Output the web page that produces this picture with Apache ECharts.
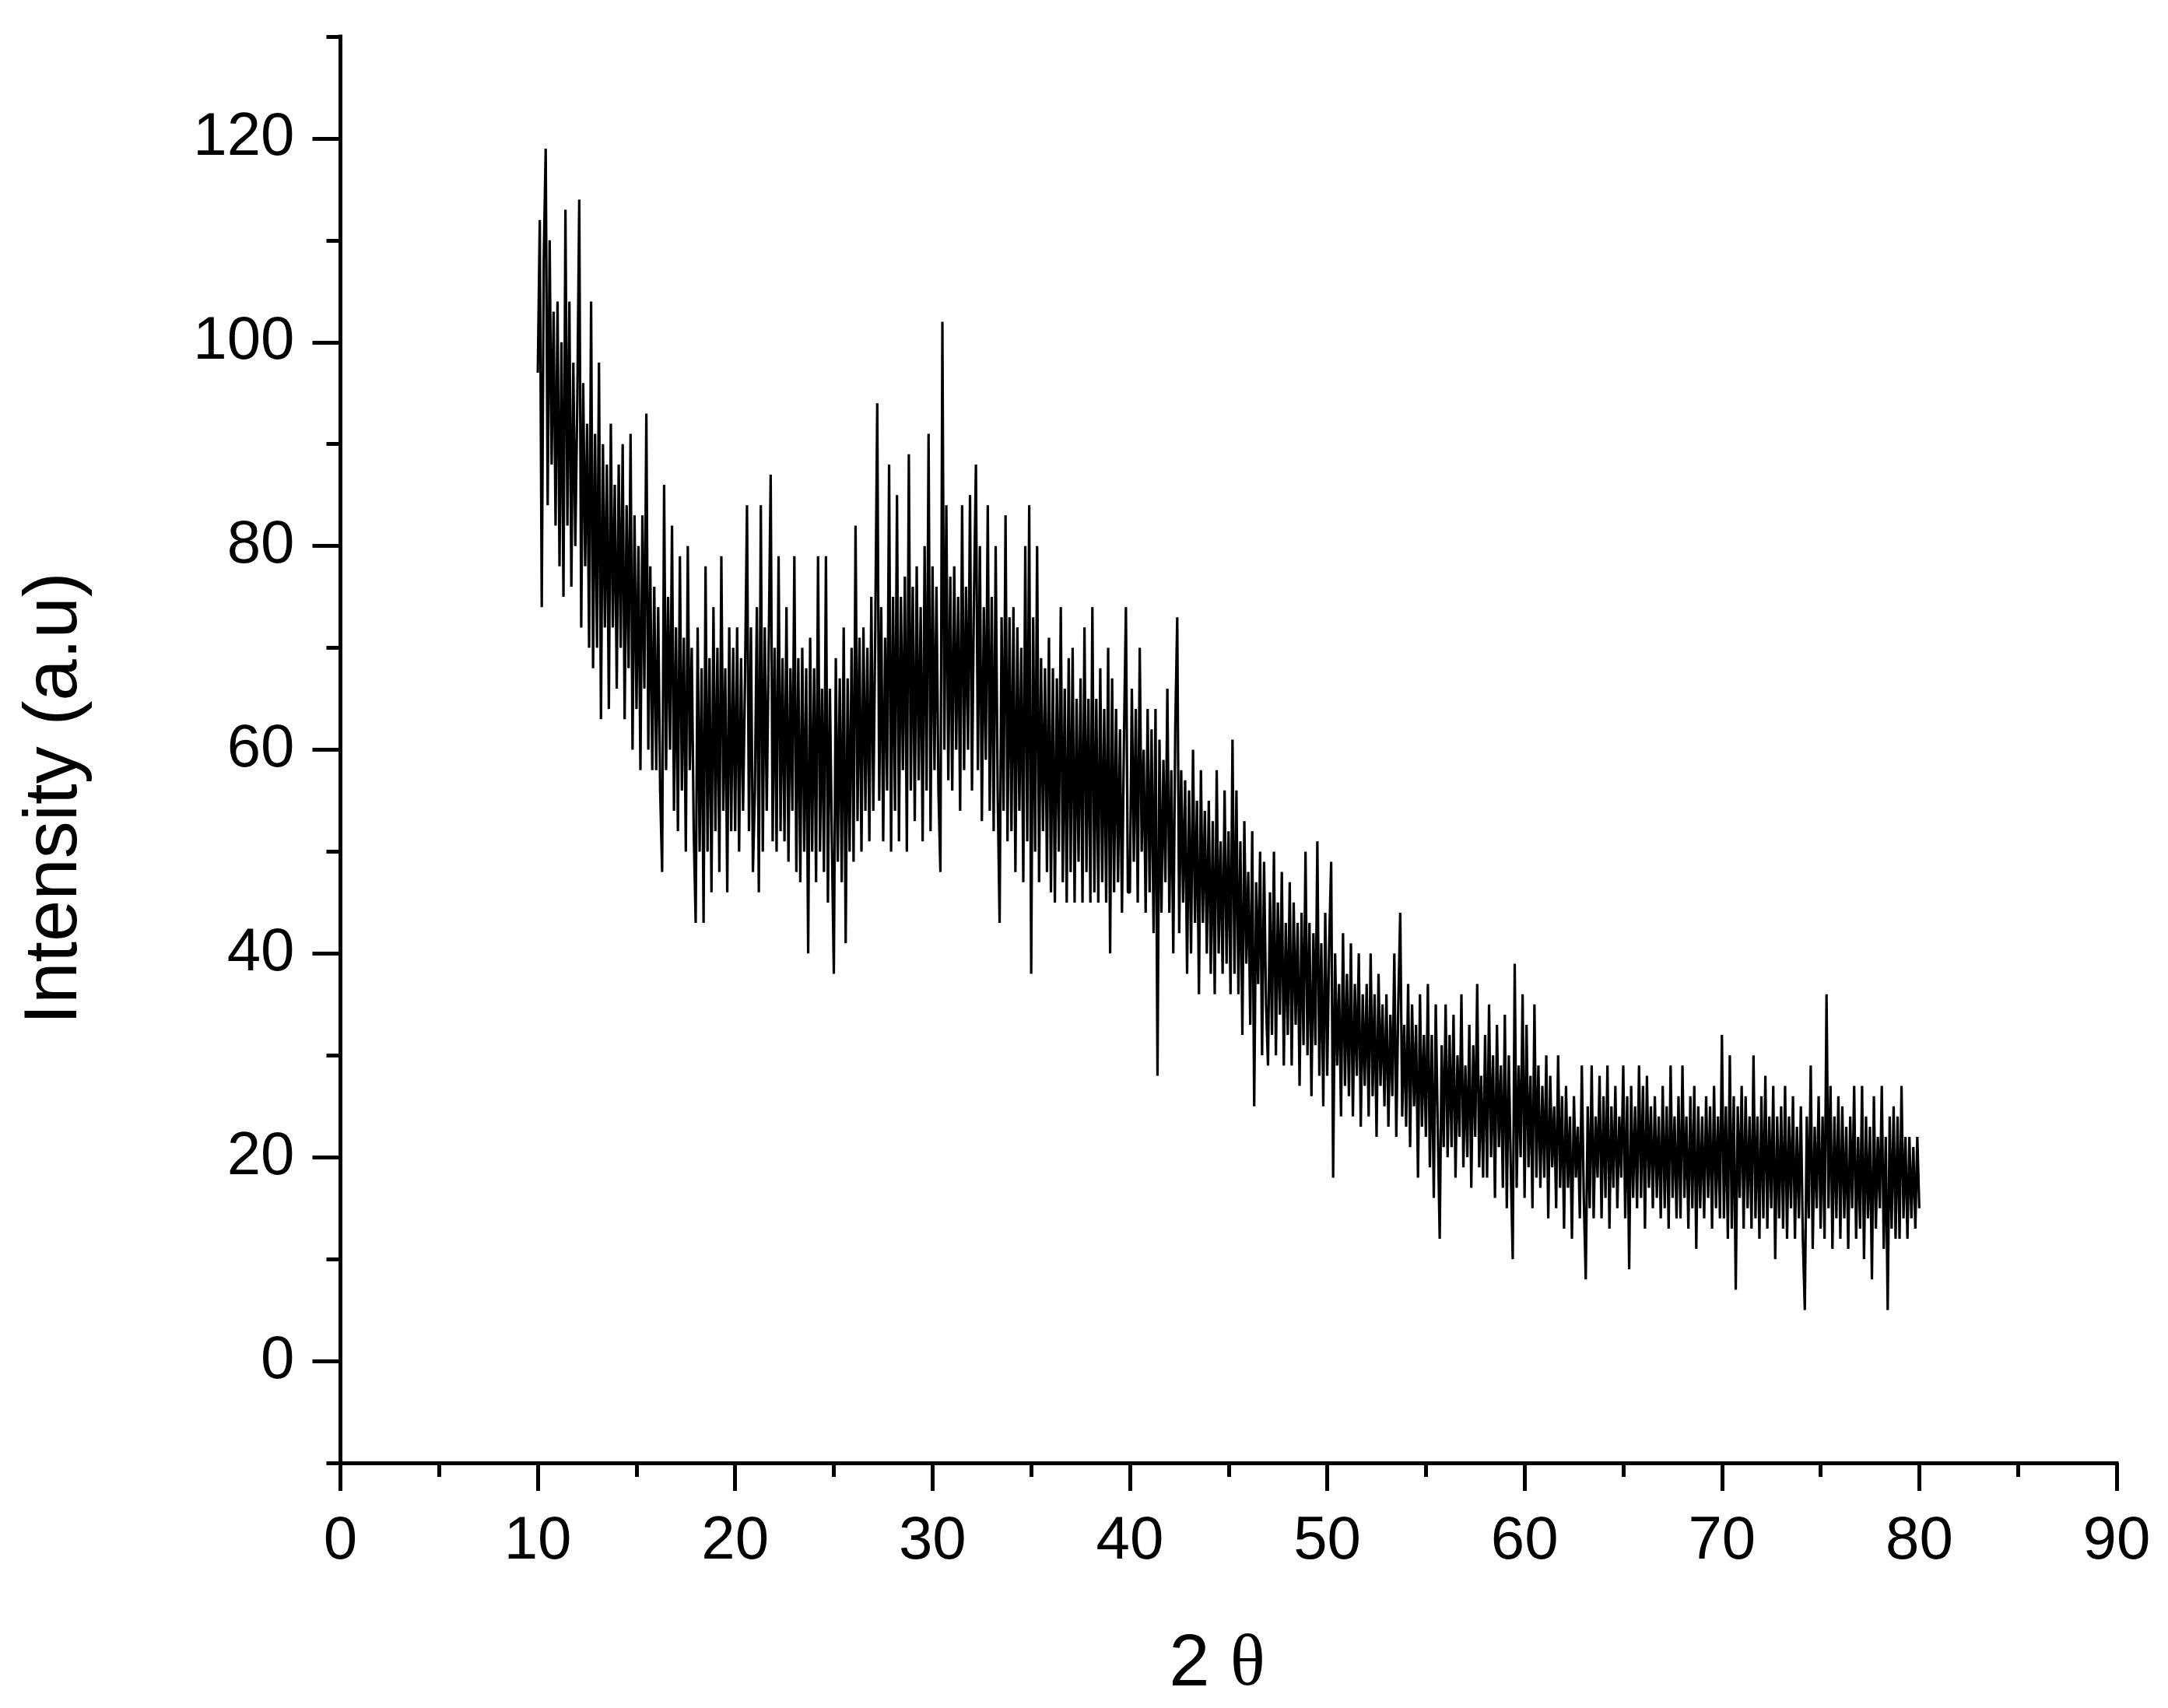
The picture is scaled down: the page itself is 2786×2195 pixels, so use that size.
<!DOCTYPE html>
<html>
<head>
<meta charset="utf-8">
<title>XRD pattern</title>
<script src="https://cdn.jsdelivr.net/npm/echarts@6/dist/echarts.min.js"></script>
<style>
  html, body { margin: 0; padding: 0; background: #fff; }
  #chart { width: 2786px; height: 2195px; }
</style>
</head>
<body>
<div id="chart"></div>
<script>
// scan settings, values, one line per degree
const thetaStart = 10
const thetaStep = 0.1

const counts10s = [
  97,112,74,108,119,84,110,88,103,82,
  104,78,100,75,113,82,104,76,98,80,
  94,114,72,96,78,92,70,104,68,91,
  70,98,63,90,72,88,64,92,72,86,
  66,88,70,90,63,84,68,91,60,83,
  64,80,58,83,66,93,60,78,58,76,
  58,74,56,48,86,58,75,60,82,54,
  72,52,79,56,71,50,80,58,70,52,
  43,72,50,68,43,78,50,69,46,74,
  52,70,48,79,54,68,46,72,52,70
]
const counts20s = [
  52,72,50,69,54,67,84,52,72,48,
  56,74,46,84,50,72,54,70,87,51,
  70,50,79,52,69,51,74,49,68,54,
  79,48,69,47,70,50,68,40,71,50,
  68,47,79,50,66,48,79,45,66,51,
  38,69,49,67,47,72,41,67,50,70,
  49,82,53,71,50,72,54,70,51,75,
  54,72,94,55,74,51,71,56,88,50,
  75,54,85,51,75,58,77,50,89,56,
  76,53,78,57,74,51,80,56,91,52
]
const counts30s = [
  78,58,76,56,48,102,60,84,57,77,
  56,78,60,75,54,84,58,76,60,85,
  56,75,88,58,80,53,74,59,84,54,
  75,52,80,56,43,73,54,83,51,73,
  52,74,48,72,54,70,47,80,51,84,
  38,73,50,80,47,69,52,68,48,71,
  46,68,45,67,50,74,47,66,45,69,
  48,70,45,65,49,67,45,72,48,65,
  45,74,46,65,45,68,47,64,45,70,
  40,67,46,64,47,62,44,61,74,46
]
const counts40s = [
  46,66,49,64,45,70,50,60,44,64,
  46,62,42,64,28,61,44,59,47,66,
  44,58,40,62,73,42,58,45,57,38,
  56,40,60,43,55,36,58,43,54,40,
  55,38,53,36,58,40,51,38,56,39,
  52,36,61,38,56,36,51,32,53,39,
  48,33,52,25,47,37,50,30,49,35,
  29,46,32,50,30,45,34,48,29,43,
  32,47,29,45,33,43,27,44,31,50,
  30,43,26,42,31,51,28,41,25,44
]
const counts50s = [
  28,41,49,18,40,29,37,24,42,27,
  38,26,41,24,37,28,40,23,36,27,
  37,24,40,26,36,22,38,27,35,25,
  36,23,34,26,40,22,35,44,24,33,
  23,37,21,35,25,33,18,36,23,32,
  22,37,19,32,16,35,23,12,31,21,
  35,20,32,21,34,18,30,22,36,19,
  29,20,33,17,31,22,37,19,28,18,
  32,18,35,20,30,16,33,21,29,17,
  34,15,30,19,10,39,17,29,20,36
]
const counts60s = [
  16,33,19,28,15,35,18,29,17,27,
  18,30,14,28,19,25,15,30,17,26,
  13,27,17,24,12,26,18,23,14,29,
  16,8,25,15,29,14,24,18,28,14,
  26,16,29,13,25,17,27,15,24,18,
  29,14,26,9,27,16,25,15,29,16,
  27,13,28,17,25,15,26,16,24,14,
  27,15,25,13,29,16,24,14,26,14,
  29,16,24,13,26,15,27,11,25,15,
  24,14,26,16,25,13,27,15,24,14
]
const counts70s = [
  32,14,25,12,30,13,26,7,25,16,
  27,13,26,15,24,13,30,14,24,12,
  26,14,28,13,24,15,27,10,24,14,
  25,13,27,12,24,15,26,12,23,14,
  25,12,5,24,14,29,11,23,15,26,
  13,24,12,36,15,27,11,24,14,26,
  12,25,14,23,11,24,15,27,12,22,
  13,27,10,24,14,23,8,26,13,22,
  15,27,11,22,5,24,13,25,12,24,
  12,27,14,22,12,22,14,21,13,22,
  15
]

const yMajorTicks = [0, 20, 40, 60, 80, 100, 120]
const yMinorTicks = [-10, 10, 30, 50, 70, 90, 110, 130]

const counts = [].concat(counts10s, counts20s, counts30s, counts40s, counts50s, counts60s, counts70s)
const seriesData = counts.map((v, i) => [+(thetaStart + i * thetaStep).toFixed(2), v])

const chart = echarts.init(document.getElementById('chart'), null, { renderer: 'canvas' })
const axisFont = { fontFamily: 'Liberation Sans', fontSize: 78, color: '#000' }
const axisLine = { show: true, onZero: false, lineStyle: { color: '#000', width: 5, cap: 'square' } }

chart.setOption({
  animation: false,
  backgroundColor: '#fff',
  grid: { left: 437.5, right: 66, top: 47, bottom: 315, outerBoundsMode: 'none' },
  xAxis: {
    type: 'value',
    min: 0,
    max: 90,
    interval: 10,
    splitLine: { show: false },
    axisLine: axisLine,
    axisTick: { show: true, length: 36, lineStyle: { color: '#000', width: 5 } },
    minorTick: { show: true, splitNumber: 2, length: 18, lineStyle: { color: '#000', width: 5 } },
    minorSplitLine: { show: false },
    axisLabel: Object.assign({ margin: 62 }, axisFont)
  },
  yAxis: [
    {
      type: 'value',
      min: -10,
      max: 130,
      interval: 10,
      splitLine: { show: false },
      axisLine: axisLine,
      axisTick: { show: true, length: 36, customValues: yMajorTicks, lineStyle: { color: '#000', width: 5 } },
      axisLabel: Object.assign({ margin: 59, customValues: yMajorTicks }, axisFont)
    },
    {
      type: 'value',
      min: -10,
      max: 130,
      interval: 10,
      position: 'left',
      splitLine: { show: false },
      axisLine: { show: false },
      axisTick: { show: true, length: 18, customValues: yMinorTicks, lineStyle: { color: '#000', width: 5 } },
      axisLabel: { show: false }
    }
  ],
  // axis titles sit off the axis centre in the reference
  graphic: [
    {
      type: 'text',
      x: 72,
      y: 1026,
      rotation: Math.PI / 2,
      style: {
        text: 'Intensity (a.u)',
        fontFamily: 'Liberation Sans',
        fontSize: 96,
        fill: '#000',
        align: 'center',
        verticalAlign: 'middle'
      }
    },
    {
      type: 'text',
      x: 1564,
      y: 2140,
      style: {
        text: '{a|2 }{b|θ}',
        align: 'center',
        verticalAlign: 'middle',
        rich: {
          a: { fontFamily: 'Liberation Sans', fontSize: 94, fill: '#000' },
          b: { fontFamily: 'Liberation Serif', fontSize: 94, fill: '#000' }
        }
      }
    }
  ],
  series: [
    {
      type: 'line',
      data: seriesData,
      showSymbol: false,
      sampling: false,
      clip: false,
      lineStyle: { color: '#000', width: 3.2, join: 'bevel' }
    }
  ]
})
</script>
</body>
</html>
